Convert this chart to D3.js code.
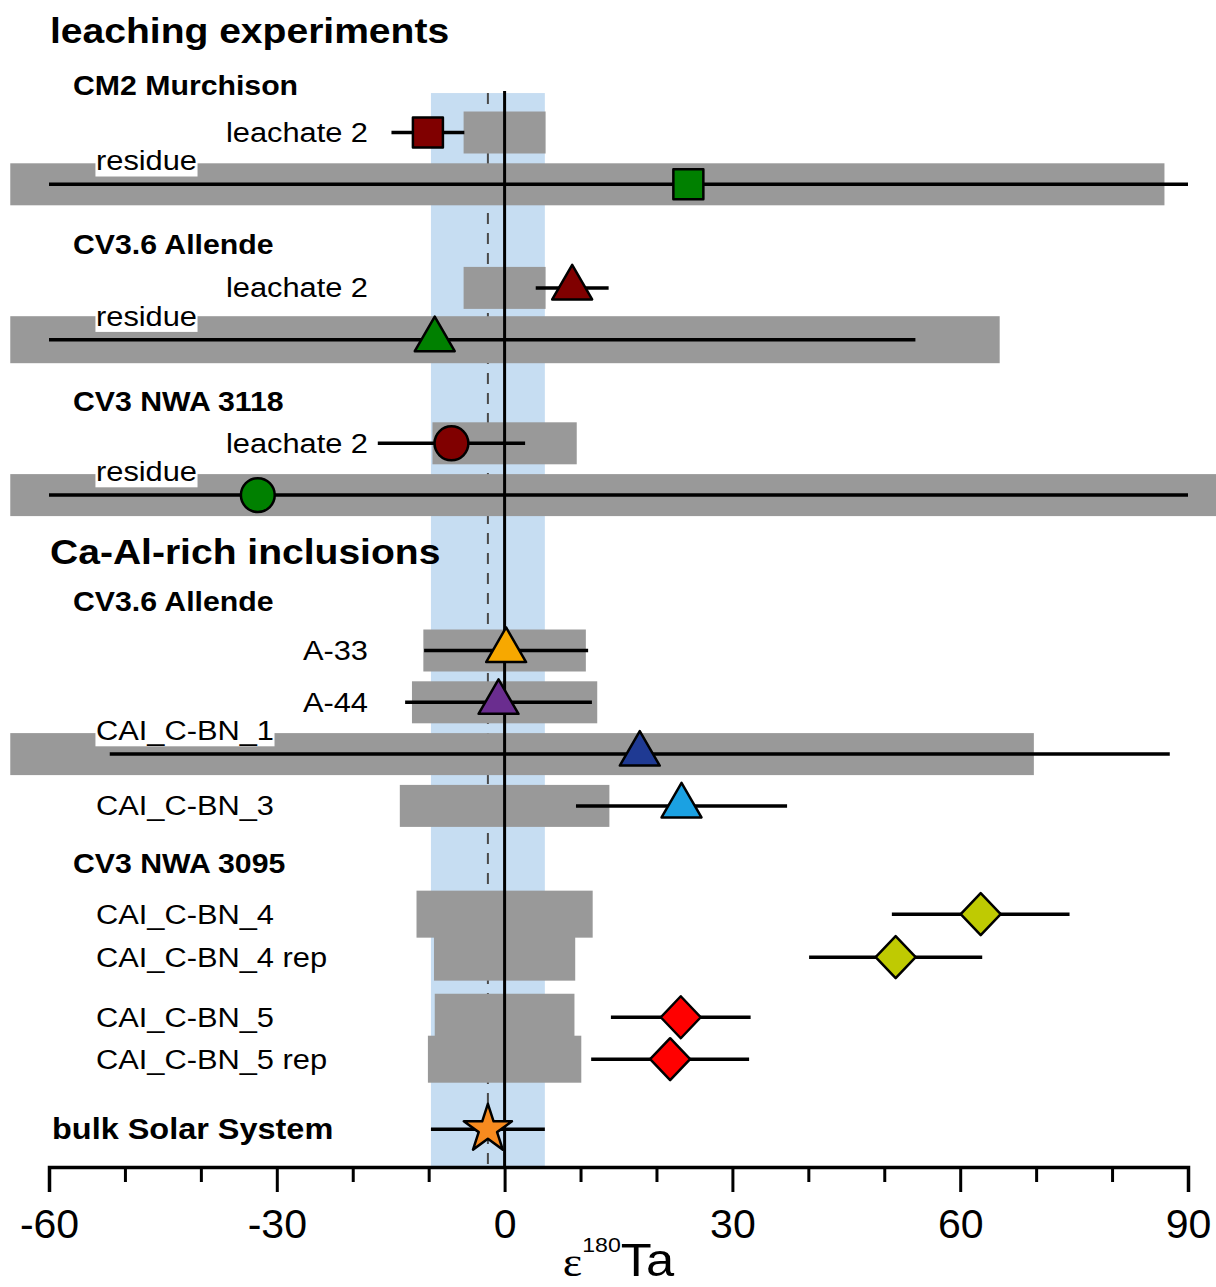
<!DOCTYPE html>
<html>
<head>
<meta charset="utf-8">
<script src="https://cdn.jsdelivr.net/npm/d3@7"></script>
<style>
  html, body { margin: 0; padding: 0; background: #fff; }
  svg { display: block; font-family: "Liberation Sans", Arial, sans-serif; }
</style>
</head>
<body>
<svg id="chart" width="1216" height="1287"></svg>
<script>
// ---- data: epsilon 180Ta of leachates, residues and CAIs ----
const sampleIds = ["murch-l2", "murch-res", "allende-l2", "allende-res", "nwa3118-l2", "nwa3118-res",
  "A-33", "A-44", "C-BN_1", "C-BN_3", "C-BN_4", "C-BN_4rep", "C-BN_5", "C-BN_5rep", "bulk"];
const sampleLabels = ["leachate 2", "residue", "leachate 2", "residue", "leachate 2", "residue",
  "A-33", "A-44", "CAI_C-BN_1", "CAI_C-BN_3", "CAI_C-BN_4", "CAI_C-BN_4 rep", "CAI_C-BN_5", "CAI_C-BN_5 rep",
  "bulk Solar System"];
const epsilonValues = [-10.1, 24.2, 8.9, -9.2, -7.0, -32.5, 0.2, -0.8, 17.8, 23.3, 62.7, 51.5, 23.2, 21.8, -2.2];
const epsilonErrors = [4.8, 88, 4.8, 63.3, 9.7, 125, 10.8, 12.3, 69.8, 13.9, 11.7, 11.4, 9.2, 10.4, 7.5];
// half-width of the grey band drawn around zero for each sample
const zeroRange = [5.4, 86.9, 5.4, 65.2, 9.5, 125, 10.7, 12.2, 69.7, 13.8, 11.6, 9.3, 9.2, 10.1, null];
const headerTexts = ["leaching experiments", "CM2 Murchison", "CV3.6 Allende", "CV3 NWA 3118",
  "Ca-Al-rich inclusions", "CV3.6 Allende", "CV3 NWA 3095"];
const axisTicks = [-60, -50, -40, -30, -20, -10, 0, 10, 20, 30, 40, 50, 60, 70, 80, 90];
const axisTickLabels = [-60, -30, 0, 30, 60, 90];

// ---- layout and styles ----
const W = 1216, H = 1287;
const TX = 1.1; // horizontal text stretch
const svg = d3.select("#chart");
svg.append("rect").attr("width", W).attr("height", H).attr("fill", "#fff");

const x = d3.scaleLinear().domain([-60, 90]).range([49, 1188]);
const rowY = d3.scaleLinear().domain([0, 1]).range([132.5, 184.3]);
const axisY = 1167;
const plotTop = rowY(-0.8);

const rowSlot = {
  "murch-l2": 0, "murch-res": 1, "allende-l2": 3, "allende-res": 4, "nwa3118-l2": 6, "nwa3118-res": 7,
  "A-33": 10, "A-44": 11, "C-BN_1": 12, "C-BN_3": 13,
  "C-BN_4": 15.09, "C-BN_4rep": 15.92, "C-BN_5": 17.08, "C-BN_5rep": 17.89, "bulk": 19.24
};
const headerSlot = [-1.72, -0.72, 2.34, 5.38, 8.33, 9.24, 14.3];
const headerLevel = ["top", "sub", "sub", "sub", "top", "sub", "sub"];

const markerStyle = {
  "murch-l2": ["square", "#800000"], "murch-res": ["square", "#008000"],
  "allende-l2": ["triangle", "#800000"], "allende-res": ["triangle", "#008000"],
  "nwa3118-l2": ["circle", "#800000"], "nwa3118-res": ["circle", "#008000"],
  "A-33": ["triangle", "#f7a800"], "A-44": ["triangle", "#6a2d8f"],
  "C-BN_1": ["triangle", "#1f3a93"], "C-BN_3": ["triangle", "#1ba1e2"],
  "C-BN_4": ["diamond", "#bfca02"], "C-BN_4rep": ["diamond", "#bfca02"],
  "C-BN_5": ["diamond", "#ff0000"], "C-BN_5rep": ["diamond", "#ff0000"],
  "bulk": ["star", "#f78b1f"]
};
const labelStyle = {
  "murch-l2": "right", "murch-res": "above", "allende-l2": "right", "allende-res": "above",
  "nwa3118-l2": "right", "nwa3118-res": "above", "A-33": "right", "A-44": "right",
  "C-BN_1": "above", "C-BN_3": "left", "C-BN_4": "left", "C-BN_4rep": "left",
  "C-BN_5": "left", "C-BN_5rep": "left", "bulk": "bold"
};
const tallBoxes = new Set(["C-BN_4", "C-BN_4rep", "C-BN_5", "C-BN_5rep", "allende-res"]);

const rows = sampleIds.map((id, i) => ({
  id, label: sampleLabels[i], value: epsilonValues[i], err: epsilonErrors[i], range: zeroRange[i],
  y: rowY(rowSlot[id])
}));
const bulk = rows.find(r => r.id === "bulk");

// light-blue band: bulk Solar System value with its uncertainty
svg.append("rect")
  .attr("x", x(bulk.value - bulk.err)).attr("width", x(bulk.value + bulk.err) - x(bulk.value - bulk.err))
  .attr("y", plotTop + 2).attr("height", axisY - plotTop - 3)
  .attr("fill", "#c6ddf2");

// dashed line at the bulk value
svg.append("line")
  .attr("x1", x(bulk.value)).attr("x2", x(bulk.value))
  .attr("y1", plotTop + 2).attr("y2", axisY)
  .attr("stroke", "#4a4a4a").attr("stroke-width", 2).attr("stroke-dasharray", "11,9");

// grey bands centred on zero
const boxLo = -65.1, boxHi = 96;
svg.append("g").selectAll("rect")
  .data(rows.filter(r => r.range != null))
  .join("rect")
  .attr("x", r => x(Math.max(-r.range, boxLo)))
  .attr("width", r => x(Math.min(r.range, boxHi)) - x(Math.max(-r.range, boxLo)))
  .attr("y", r => r.y - (tallBoxes.has(r.id) ? 23.5 : 21))
  .attr("height", r => tallBoxes.has(r.id) ? 47 : 42)
  .attr("fill", "#999999");

// zero line
svg.append("line")
  .attr("x1", x(0)).attr("x2", x(0))
  .attr("y1", plotTop).attr("y2", axisY)
  .attr("stroke", "#000").attr("stroke-width", 3);

// error bars, clipped to the axis range
svg.append("g").selectAll("line")
  .data(rows)
  .join("line")
  .attr("x1", r => x(Math.max(r.value - r.err, -60)))
  .attr("x2", r => x(Math.min(r.value + r.err, 90)))
  .attr("y1", r => r.y).attr("y2", r => r.y)
  .attr("stroke", "#000").attr("stroke-width", 3.5);

// markers
function markerPath(shape) {
  if (shape === "square") return d3.symbol(d3.symbolSquare, 900)();
  if (shape === "circle") return d3.symbol(d3.symbolCircle, 900)();
  if (shape === "triangle") return d3.symbol(d3.symbolTriangle, 690)();
  if (shape === "star") return d3.symbol(d3.symbolStar, 720)();
  const p = d3.path();
  p.moveTo(0, -21); p.lineTo(20, 0); p.lineTo(0, 21); p.lineTo(-20, 0); p.closePath();
  return p.toString();
}
svg.append("g").selectAll("path")
  .data(rows)
  .join("path")
  .attr("transform", r => `translate(${x(r.value)},${r.y})`)
  .attr("d", r => markerPath(markerStyle[r.id][0]))
  .attr("fill", r => markerStyle[r.id][1])
  .attr("stroke", "#000").attr("stroke-width", 2.5).attr("stroke-linejoin", "round");

// row labels
const labelG = svg.append("g");
rows.forEach(r => {
  const style = labelStyle[r.id];
  let ax, ay, anchor = "start", weight = "normal", size = 28;
  if (style === "right") { ax = 368; ay = r.y + 9.5; anchor = "end"; }
  else if (style === "left") { ax = 96; ay = r.y + 9.5; }
  else if (style === "above") { ax = 96; ay = r.y - 14; }
  else { ax = 52; ay = r.y + 10; weight = "bold"; size = 29.5; }
  const g = labelG.append("g").attr("transform", `translate(${ax},${ay}) scale(${TX},1)`);
  const t = g.append("text")
    .attr("text-anchor", anchor).attr("font-size", size).attr("font-weight", weight)
    .attr("fill", "#000").text(r.label);
  if (style === "above") {
    const b = t.node().getBBox();
    g.insert("rect", "text")
      .attr("x", b.x - 0.5).attr("y", b.y + 2).attr("width", b.width + 1).attr("height", b.height - 1.5)
      .attr("fill", "#fff");
  }
});

// group headers
headerTexts.forEach((h, i) => {
  const top = headerLevel[i] === "top";
  svg.append("g")
    .attr("transform", `translate(${top ? 50 : 73},${rowY(headerSlot[i])}) scale(${TX},1)`)
    .append("text")
    .attr("font-size", top ? 35.5 : 27.5).attr("font-weight", "bold").attr("fill", "#000")
    .text(h);
});

// x axis
const axis = d3.axisBottom(x)
  .tickValues(axisTicks).tickSizeOuter(0).tickSize(25)
  .tickFormat(d => axisTickLabels.includes(d) ? String(d) : "");
const ag = svg.append("g").attr("transform", `translate(0,${axisY})`).call(axis);
ag.select(".domain").attr("stroke", "#000").attr("stroke-width", 3.5);
ag.selectAll(".tick line")
  .attr("stroke", "#000").attr("stroke-width", 3)
  .attr("y2", d => axisTickLabels.includes(d) ? 25 : 15);
ag.selectAll(".tick text")
  .attr("font-family", "'Liberation Sans', Arial, sans-serif")
  .attr("font-size", 41).attr("fill", "#000").attr("y", 42);

// axis title: epsilon 180Ta
const title = svg.append("g")
  .attr("transform", `translate(${(x(-60) + x(90)) / 2},1276) scale(${TX},1)`)
  .append("text").attr("text-anchor", "middle").attr("fill", "#000");
title.append("tspan").attr("font-family", "'Liberation Serif', serif").attr("font-size", 42).text("ε");
title.append("tspan").attr("font-size", 21).attr("dy", -24).text("180");
title.append("tspan").attr("font-size", 46).attr("dy", 24).text("Ta");
</script>
</body>
</html>
